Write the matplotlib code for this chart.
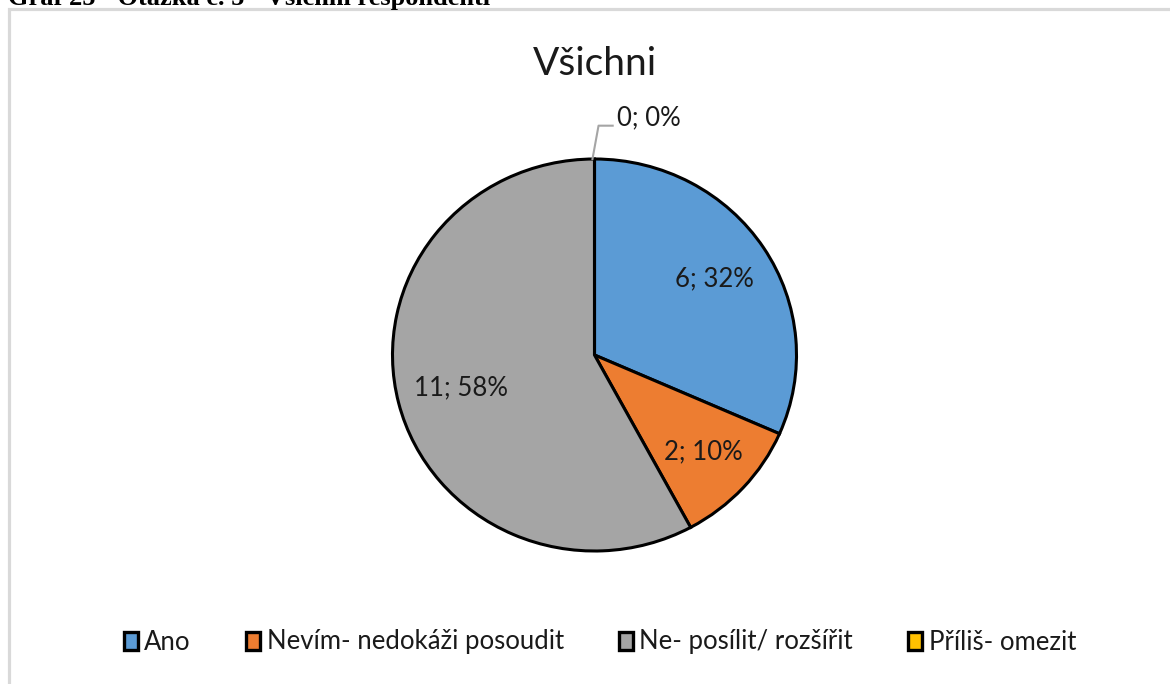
import numpy as np
import matplotlib
matplotlib.use("Agg")
import matplotlib.pyplot as plt
from matplotlib.patches import Patch, Rectangle

# data
categories = ["Ano", "Nevím- nedokáži posoudit", "Ne- posílit/ rozšířit", "Příliš- omezit"]
counts = [6, 2, 11, 0]
percents = [32, 10, 58, 0]
colors = ["#5B9BD5", "#ED7D31", "#A5A5A5", "#FFC000"]

title = "Všichni"
caption = "Graf 25 - Otázka č. 5 - Všichni respondenti"

plt.rcParams['font.family'] = ['Lato', 'DejaVu Sans']

W, H = 1170, 684
fig = plt.figure(figsize=(W / 100, H / 100), dpi=100)

# šedý rámeček grafu (pravý a spodní okraj jsou mimo obrázek)
fig.patches.append(Rectangle((9 / W, -0.05), 1.2, 1 - 9 / H + 0.05,
                             transform=fig.transFigure, fill=False,
                             edgecolor="#D9D9D9", linewidth=2.3))

# popisek nad grafem, oříznutý
fig.text(8 / W, 1 - 5 / H, caption, family="Liberation Serif", weight="bold",
         fontsize=19, va="baseline", ha="left", color="black")

# koláč (v obrázku mírně roztažený do šířky)
cx, cy, rx, ry = 594.5, 355, 202, 196
ax = fig.add_axes([(cx - rx) / W, (H - cy - ry) / H, 2 * rx / W, 2 * ry / H])
wedges, _ = ax.pie(counts, colors=colors, startangle=90, counterclock=False,
                   wedgeprops=dict(edgecolor="black", linewidth=2.2))
ax.set_xlim(-1, 1)
ax.set_ylim(-1, 1)
ax.set_aspect("auto")
ax.axis("off")

for w, c, p in zip(wedges, counts, percents):
    txt = f"{c}; {p}%"
    mid = np.deg2rad((w.theta1 + w.theta2) / 2)
    if c > 0:
        d = {6: 0.71, 2: 0.73, 11: 0.68}.get(c, 0.7)
        ax.text(d * np.cos(mid), d * np.sin(mid), txt, ha="center", va="center",
                fontsize=18.5, color="#1a1a1a")
    else:
        # nulová výseč - popisek s vodicí čarou
        x0, y0 = np.cos(mid), np.sin(mid)
        ax.plot([x0 - 0.01, x0 + 0.02, x0 + 0.09], [y0, y0 + 0.17, y0 + 0.17],
                color="#A5A5A5", linewidth=1.5, clip_on=False)
        ax.text(x0 + 0.11, y0 + 0.17, txt, ha="left", va="baseline",
                fontsize=18.5, color="#1a1a1a")

fig.text(cx / W, 1 - 64 / H, title, ha="center", va="center", fontsize=28,
         color="#1a1a1a")

handles = [Patch(facecolor=col, edgecolor="black", linewidth=2.4) for col in colors]
fig.legend(handles, categories, loc="center", bbox_to_anchor=(600 / W, 1 - 642 / H),
           ncol=4, frameon=False, fontsize=18.5, handlelength=0.55, handleheight=0.7,
           handletextpad=0.25, columnspacing=2.15, labelcolor="#1a1a1a")

fig.savefig("out.png", dpi=100)
